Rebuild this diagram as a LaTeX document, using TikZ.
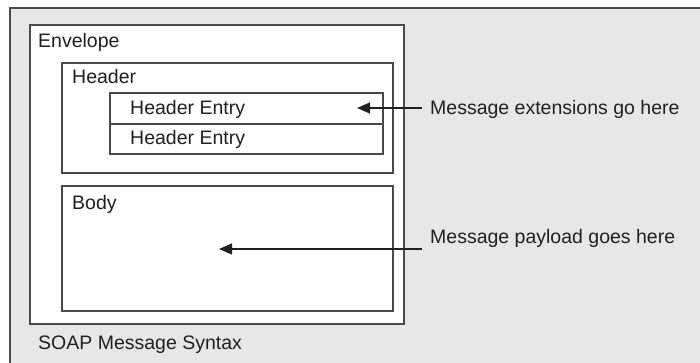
\documentclass[tikz,border=0pt]{standalone}
\usepackage{fontspec}
\setmainfont{Liberation Sans}
\usetikzlibrary{arrows.meta}
\definecolor{panelgrey}{HTML}{E6E7E8}
\definecolor{edge}{HTML}{4A4A4A}
\definecolor{ink}{HTML}{231F20}
\tikzset{
  box/.style={draw=edge, line width=1.1pt, fill=white, anchor=north west,
              inner sep=0pt, outer sep=0pt},
  lbl/.style={anchor=base west, inner sep=0pt, text=ink,
              font=\fontsize{19.5}{22}\selectfont},
  note/.style={anchor=base west, inner xsep=8pt, inner ysep=0pt, text=ink,
               font=\fontsize{19.5}{22}\selectfont},
  pointer/.style={draw=ink, line width=1.1pt,
                  -{Triangle[length=13pt,width=11pt]}}
}
\begin{document}
\begin{tikzpicture}[x=1pt,y=-1pt]
  \useasboundingbox (0,0) rectangle (700,362);

  % grey panel, running off the right and bottom edges
  \fill[panelgrey] (10,8) rectangle (704,366);
  \draw[edge, line width=1.8pt] (10,366) -- (10,8) -- (704,8);

  % envelope
  \node[box, minimum width=374pt, minimum height=299pt] (env) at (30,25) {};
  \node[lbl] (envlbl) at (38,47) {Envelope};

  % header with its entries
  \node[box, minimum width=331pt, minimum height=110pt] (hdr) at (62,63) {};
  \node[lbl] (hdrlbl) at (72,83) {Header};
  \node[box, minimum width=273pt, minimum height=31pt] (entry1) at (110,93) {};
  \node[box, minimum width=273pt, minimum height=30pt] (entry2) at (110,124) {};
  \node[lbl] (entry1lbl) at (130,114) {Header Entry};
  \node[lbl] (entry2lbl) at (130,144) {Header Entry};

  % body
  \node[box, minimum width=331pt, minimum height=125pt] (body) at (62,186) {};
  \node[lbl] (bodylbl) at (72,209) {Body};

  % caption of the panel
  \node[lbl] (caption) at (38,349) {SOAP Message Syntax};

  % annotations with pointers
  \node[note] (ext) at (422,114) {Message extensions go here};
  \coordinate (exttip) at (357,108);
  \draw[pointer] (ext.west |- exttip) -- (exttip);

  \node[note] (pay) at (422,243) {Message payload goes here};
  \coordinate (paytip) at (219,249);
  \draw[pointer] (pay.west |- paytip) -- (paytip);
\end{tikzpicture}
\end{document}
